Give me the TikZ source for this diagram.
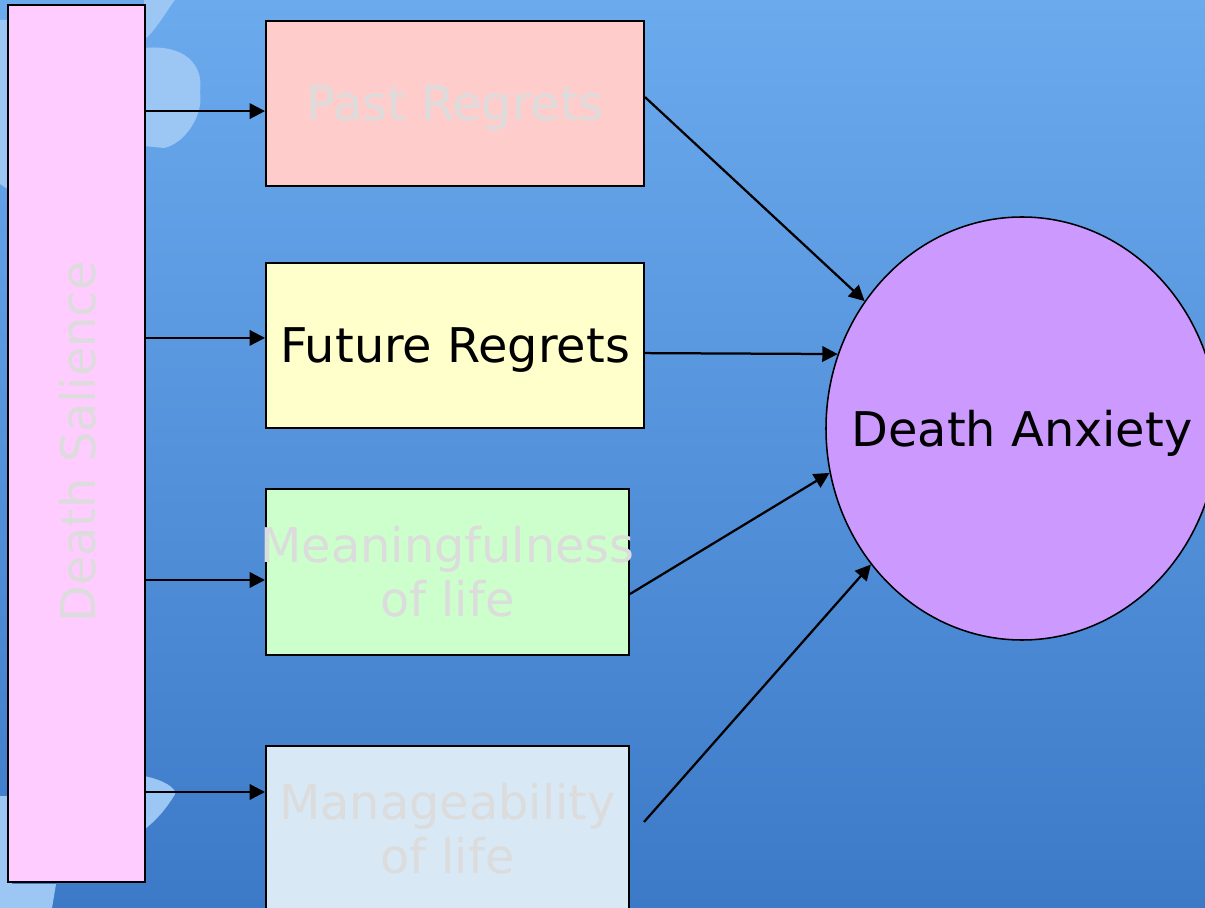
\documentclass[tikz,border=0pt]{standalone}
\usepackage{fontspec}
\setmainfont{DejaVu Sans}
\usepackage{tikz}
\usetikzlibrary{shapes.geometric, arrows.meta, positioning}

\definecolor{bgtop}{HTML}{6CAAEE}
\definecolor{bgbot}{HTML}{3C7AC8}
\definecolor{petal}{HTML}{9CC6F4}
\definecolor{salfill}{HTML}{FFCCFF}
\definecolor{pastfill}{HTML}{FFCCCC}
\definecolor{futfill}{HTML}{FFFFCC}
\definecolor{meanfill}{HTML}{CCFFCC}
\definecolor{manfill}{HTML}{D8E8F5}
\definecolor{anxfill}{HTML}{CC99FF}
\definecolor{faint}{HTML}{DCDCDC}

\begin{document}
\begin{tikzpicture}[
  box/.style={draw, line width=1.4pt, inner sep=0pt, align=center, font=\fontsize{34}{38.4}\selectfont},
  salbox/.style={box, fill=salfill, minimum width=3.425cm, minimum height=21.925cm},
  regbox/.style={box, text depth=0pt, minimum width=9.45cm, minimum height=4.125cm},
  lifebox/.style={box, inner xsep=-6pt, minimum width=9.075cm, minimum height=4.15cm},
  blob/.style={draw, line width=1.1pt, ellipse, inner xsep=-25pt, inner ysep=0pt, text depth=0pt, fill=anxfill, minimum width=9.8cm, minimum height=10.575cm, font=\fontsize{34}{38.4}\selectfont},
  arrow/.style={-{Triangle[length=11pt, width=11pt]}, line width=1.6pt},
  petalfill/.style={fill=petal, draw=none}
]

% Background
\useasboundingbox (0,0) rectangle (30.125,-22.7);
\clip (0,0) rectangle (30.125,-22.7);
\shade[top color=bgtop, bottom color=bgbot] (0,0) rectangle (30.125,-22.7);

% faint petals behind the left column
\fill[petalfill] (3.6,0) -- (4.65,0) .. controls (4.5,0.5) and (4.1,-0.6) .. (3.6,-1.0) -- cycle;
\fill[petalfill] (3.6,-1.2) .. controls (4.6,-1.1) and (5.1,-1.6) .. (5.0,-2.3)
  .. controls (5.1,-2.9) and (4.6,-3.6) .. (4.1,-3.7) -- (3.6,-3.65) -- cycle;
\fill[petalfill] (3.6,-19.4) .. controls (4.1,-19.5) and (4.4,-19.7) .. (4.38,-19.85)
  .. controls (4.1,-20.3) and (3.9,-20.5) .. (3.6,-20.75) -- cycle;
\fill[petalfill] (0,-0.5) -- (0.3,-0.5) -- (0.3,-4.8) -- (0,-4.6) -- cycle;
\fill[petalfill] (0,-19.9) -- (0.3,-19.9) -- (0.3,-22.1) -- (1.4,-22.1) -- (1.3,-22.7) -- (0,-22.7) -- cycle;

% Left column
\node[salbox] (salience) at (1.9125,-11.0875) {};
\node[rotate=90, text=faint, font=\fontsize{34}{38.4}\selectfont] (saltext) at (1.95,-11.05) {Death Salience};

% Middle column
\node[regbox, fill=pastfill, text=faint] (pastreg) at (11.375,-2.5875) {Past Regrets};
\node[regbox, fill=futfill] (futreg) at (11.375,-8.6375) {Future Regrets};
\node[lifebox, fill=meanfill, text=faint] (meaning) at (11.1875,-14.3) {Meaningfulness\\of life};
\node[lifebox, fill=manfill, text=faint] (manage) at (11.1875,-20.725) {Manageability\\of life};

% Right
\node[blob] (anxiety) at (25.55,-10.7125) {Death Anxiety};
\coordinate (managetail) at (16.1,-20.55);

% salience -> factors
\draw[arrow] ([yshift=-1.9mm]pastreg.west -| salience.east) -- ([yshift=-1.9mm]pastreg.west);
\draw[arrow] ([yshift=1.9mm]futreg.west -| salience.east) -- ([yshift=1.9mm]futreg.west);
\draw[arrow] ([yshift=-2mm]meaning.west -| salience.east) -- ([yshift=-2mm]meaning.west);
\draw[arrow] ([yshift=9.25mm]manage.west -| salience.east) -- ([yshift=9.25mm]manage.west);

% factors -> anxiety
\draw[arrow] ([yshift=1.6mm]pastreg.east) -- (anxiety.141);
\draw[arrow] ([yshift=-1.9mm]futreg.east) -- (anxiety.158.2);
\draw[arrow] ([yshift=-5.5mm]meaning.east) -- (anxiety.193);
\draw[arrow] (managetail) -- (anxiety.222);

\end{tikzpicture}
\end{document}
